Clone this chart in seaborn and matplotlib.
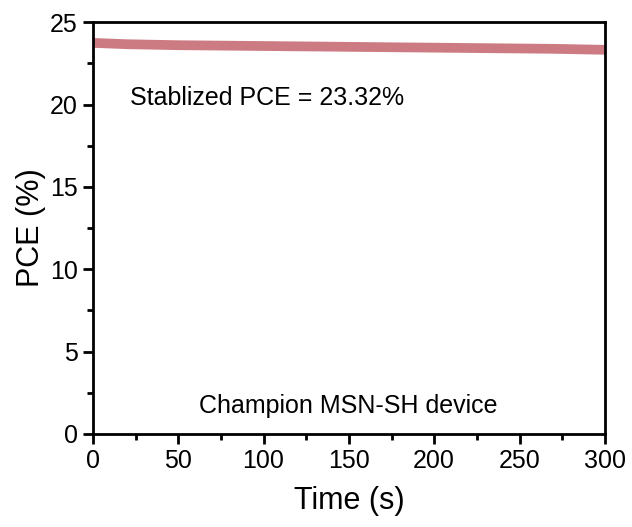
import numpy as np
import pandas as pd
import matplotlib
matplotlib.use("Agg")
import matplotlib.pyplot as plt
import seaborn as sns
from matplotlib.ticker import MultipleLocator

time_s = [0, 10, 20, 30, 40, 50, 60, 70, 80, 90, 100, 110, 120, 130, 140, 150,
          160, 170, 180, 190, 200, 210, 220, 230, 240, 250, 260, 270, 280, 290, 300]
pce = [23.74, 23.70, 23.66, 23.64, 23.62, 23.60, 23.59, 23.58, 23.57, 23.56, 23.55,
       23.54, 23.53, 23.52, 23.51, 23.50, 23.49, 23.48, 23.47, 23.46, 23.45, 23.44,
       23.43, 23.42, 23.41, 23.40, 23.39, 23.38, 23.36, 23.34, 23.32]

df = pd.DataFrame({"Time (s)": time_s, "PCE (%)": pce})

sns.set_style("ticks")
plt.rcParams['font.family'] = ['Liberation Sans', 'DejaVu Sans']
plt.rcParams['text.color'] = 'black'
plt.rcParams['axes.labelcolor'] = 'black'
plt.rcParams['xtick.color'] = 'black'
plt.rcParams['ytick.color'] = 'black'
plt.rcParams['axes.edgecolor'] = 'black'

fig = plt.figure(figsize=(6.32, 5.27), dpi=100)
ax = fig.add_axes([0.147, 0.1765, 0.81, 0.7815])
sns.lineplot(data=df, x="Time (s)", y="PCE (%)", ax=ax, color="#CC7B82", linewidth=7)

ax.set_xlim(0, 300)
ax.set_ylim(0, 25)
ax.xaxis.set_major_locator(MultipleLocator(50))
ax.xaxis.set_minor_locator(MultipleLocator(25))
ax.yaxis.set_major_locator(MultipleLocator(5))
ax.yaxis.set_minor_locator(MultipleLocator(2.5))
ax.tick_params(which='major', direction='out', length=7, width=2, labelsize=18, colors='black', pad=4)
ax.tick_params(which='minor', direction='out', length=4, width=2)
for s in ax.spines.values():
    s.set_linewidth(2)
    s.set_visible(True)
ax.set_xlabel("Time (s)", fontsize=22, labelpad=9)
ax.set_ylabel("PCE (%)", fontsize=22, labelpad=3)
ax.text(0.072, 0.80, "Stablized PCE = 23.32%", transform=ax.transAxes, fontsize=18, va='baseline')
ax.text(0.499, 0.051, "Champion MSN-SH device", transform=ax.transAxes, fontsize=18, ha='center', va='baseline')

fig.savefig("out.png", dpi=100)
